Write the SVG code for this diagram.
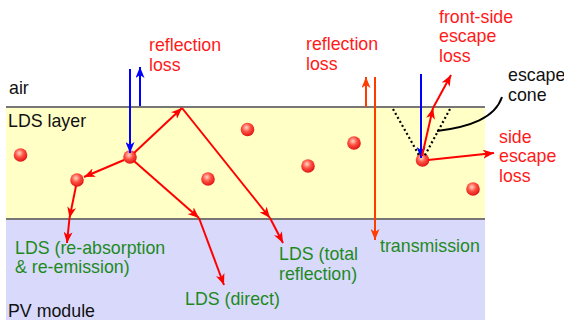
<svg xmlns="http://www.w3.org/2000/svg" width="564" height="320" viewBox="0 0 564 320">
<style>
text{font-family:"Liberation Sans",Arial,sans-serif;font-size:17.8px}
.red{fill:#ff1a1a}
.grn{fill:#1e8a1e}
.blk{fill:#111}
.ar{fill:none;stroke:#ff0000;stroke-width:2;marker-end:url(#mr)}
.ao{fill:none;stroke:#ff3c00;stroke-width:2;marker-end:url(#mo)}
.ab{fill:none;stroke:#0000ff;stroke-width:2;marker-end:url(#mb)}
.dot{fill:none;stroke:#000;stroke-width:2.2;stroke-dasharray:2 2.6}
.bd{stroke:#777;stroke-width:2}
</style>
<defs>
<radialGradient id="pg" cx="0.42" cy="0.36" r="0.62">
<stop offset="0" stop-color="#ffd8c8"/>
<stop offset="0.5" stop-color="#ff5040"/>
<stop offset="1" stop-color="#e01818"/>
</radialGradient>
<marker id="mr" markerUnits="userSpaceOnUse" markerWidth="12" markerHeight="9" refX="11" refY="4.5" orient="auto"><path d="M0,0 L11,4.5 L0,9 L3,4.5 z" fill="#ff0000"/></marker>
<marker id="mo" markerUnits="userSpaceOnUse" markerWidth="12" markerHeight="9" refX="11" refY="4.5" orient="auto"><path d="M0,0 L11,4.5 L0,9 L3,4.5 z" fill="#ff3c00"/></marker>
<marker id="mb" markerUnits="userSpaceOnUse" markerWidth="12" markerHeight="9" refX="11" refY="4.5" orient="auto"><path d="M0,0 L11,4.5 L0,9 L3,4.5 z" fill="#0000ff"/></marker>
</defs>
<g id="layers">
<rect x="6" y="107" width="479" height="112" fill="#ffffc6"/>
<rect x="6" y="219" width="479" height="101" fill="#d9d9fb"/>
<line class="bd" x1="6" y1="107" x2="485" y2="107"/>
<line class="bd" x1="6" y1="219" x2="485" y2="219"/>
</g>
<g id="particles" fill="url(#pg)">
<circle id="p1" cx="20.5" cy="155" r="6.8"/>
<circle id="p2" cx="77" cy="180" r="6.8"/>
<circle id="p3" cx="130" cy="157" r="6.8"/>
<circle id="p4" cx="247.5" cy="129.5" r="6.8"/>
<circle id="p5" cx="208" cy="179" r="6.8"/>
<circle id="p6" cx="308" cy="166" r="6.8"/>
<circle id="p7" cx="354" cy="143" r="6.8"/>
<circle id="p8" cx="422.5" cy="160" r="6.8"/>
<circle id="p9" cx="473" cy="189" r="6.8"/>
</g>
<g id="connectors">
<line class="ab" x1="130" y1="69" x2="130" y2="153"/>
<line class="ab" x1="140" y1="106" x2="140" y2="67"/>
<line class="ab" x1="421" y1="74" x2="421" y2="158"/>
<line class="ar" x1="134" y1="153" x2="182" y2="108"/>
<line class="ar" x1="182" y1="108" x2="270" y2="218"/>
<line class="ar" x1="270" y1="218" x2="283" y2="243"/>
<line class="ar" x1="134" y1="161" x2="199" y2="218"/>
<line class="ar" x1="199" y1="218" x2="224" y2="285"/>
<line class="ar" x1="124" y1="160" x2="84" y2="177"/>
<line class="ar" x1="76" y1="186" x2="69.5" y2="218"/>
<line class="ar" x1="69.5" y1="218" x2="67" y2="243"/>
<line class="ar" x1="422" y1="156" x2="433" y2="108"/>
<line class="ar" x1="433" y1="108" x2="451" y2="75"/>
<line class="ar" x1="428" y1="160" x2="494" y2="153"/>
<line class="ao" x1="366" y1="107" x2="366" y2="77"/>
<line class="ao" x1="375" y1="77" x2="375" y2="240"/>
<line class="dot" x1="393" y1="109" x2="420" y2="157"/>
<line class="dot" x1="450" y1="109" x2="424" y2="157"/>
<path d="M437,131 C470,127 495,118 502,97" fill="none" stroke="#000" stroke-width="2"/>
</g>
<g id="labels">
<text class="blk" x="9" y="94">air</text>
<text class="blk" x="8" y="127">LDS layer</text>
<text class="blk" x="8" y="316.5">PV module</text>
<text class="red" x="149" y="50.5">reflection</text>
<text class="red" x="149" y="70.5">loss</text>
<text class="red" x="306" y="49.5">reflection</text>
<text class="red" x="306" y="69.5">loss</text>
<text class="red" x="439" y="22.5">front-side</text>
<text class="red" x="439" y="41.5">escape</text>
<text class="red" x="439" y="61.5">loss</text>
<text class="blk" x="508" y="80.5">escape</text>
<text class="blk" x="508" y="100.5">cone</text>
<text class="red" x="499" y="143.3">side</text>
<text class="red" x="499" y="162">escape</text>
<text class="red" x="499" y="182.3">loss</text>
<text class="grn" x="15" y="254">LDS (re-absorption</text>
<text class="grn" x="15" y="272.5">&amp; re-emission)</text>
<text class="grn" x="185" y="305">LDS (direct)</text>
<text class="grn" x="279" y="260">LDS (total</text>
<text class="grn" x="279" y="280">reflection)</text>
<text class="grn" x="380" y="251.5">transmission</text>
</g>
</svg>
